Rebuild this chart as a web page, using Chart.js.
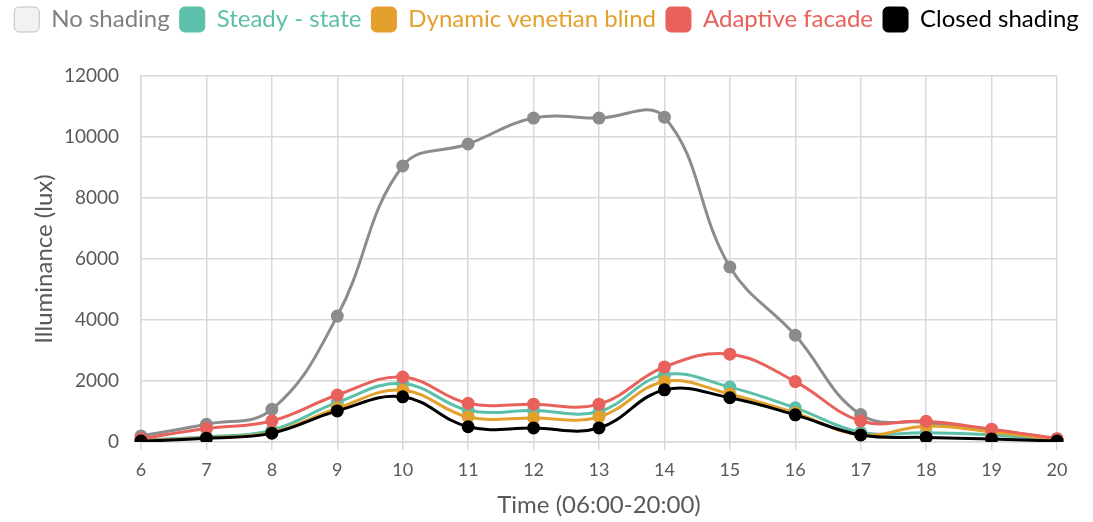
<!DOCTYPE html>
<html>
<head>
<meta charset="utf-8">
<script src="https://cdn.jsdelivr.net/npm/chart.js@4"></script>
<style>
  html, body { margin: 0; padding: 0; background: #ffffff; }
  #wrap { width: 1093px; height: 522px; position: relative; }
</style>
</head>
<body>
<div id="wrap"><canvas id="c" width="1093" height="522"></canvas></div>
<script>
// Hours of the day
const hours = ['6','7','8','9','10','11','12','13','14','15','16','17','18','19','20'];

// Illuminance (lux) per shading strategy
const noShading   = [200, 580, 1070, 4130, 9050, 9770, 10620, 10620, 10650, 5740, 3500, 900, 640, 400, 100];
const steadyState = [60, 170, 390, 1300, 1920, 1040, 1030, 1000, 2200, 1800, 1120, 320, 300, 230, 60];
const dynamicBlind = [40, 140, 310, 1110, 1700, 820, 790, 820, 1980, 1570, 950, 230, 520, 330, 80];
const adaptive    = [110, 440, 690, 1540, 2130, 1270, 1240, 1240, 2460, 2880, 1980, 690, 680, 420, 110];
const closed      = [30, 120, 290, 1020, 1480, 500, 460, 460, 1710, 1450, 890, 230, 150, 100, 30];

const yTicks = [0, 2000, 4000, 6000, 8000, 10000, 12000];

const FONT = 'Lato, "Open Sans", sans-serif';

function series(label, data, color, order, boxFill, boxBorder) {
  return {
    label, data,
    borderColor: color,
    backgroundColor: color,
    pointBackgroundColor: color,
    pointBorderColor: color,
    pointRadius: 5,
    pointHoverRadius: 5,
    borderWidth: 3,
    tension: 0.4,
    fill: false,
    order,
    yAxisID: 'y',
    legendFill: boxFill || color,
    legendBorder: boxBorder || color
  };
}

const datasets = [
  series('No shading', noShading, '#8c8c8c', 4, '#f2f2f2', '#bfbfbf'),
  series('Steady - state', steadyState, '#5bbfa9', 3),
  series('Dynamic venetian blind', dynamicBlind, '#e3a02c', 2),
  series('Adaptive facade', adaptive, '#e8615a', 1),
  series('Closed shading', closed, '#000000', 0)
];

const legendText = ['#7f7f7f', '#5bbfa9', '#e3a02c', '#e8615a', '#000000'];

// Reserve a fixed band for the legend above the plot area
const legendBand = {
  id: 'legendBand',
  beforeLayout(chart) {
    const lg = chart.legend;
    if (lg && !lg._fixedBand) {
      const fit = lg.fit;
      lg.fit = function () { fit.call(this); this.height = 79; };
      lg._fixedBand = true;
    }
  }
};

new Chart(document.getElementById('c'), {
  type: 'line',
  data: { labels: hours, datasets },
  plugins: [legendBand],
  options: {
    responsive: false,
    animation: false,
    layout: { padding: { left: 0, right: 0, top: -3, bottom: 0 } },
    plugins: {
      tooltip: { enabled: false },
      legend: {
        position: 'top',
        align: 'center',
        labels: {
          font: { family: FONT, size: 24 },
          boxWidth: 25,
          boxHeight: 25,
          padding: 10,
          useBorderRadius: true,
          borderRadius: 5,
          generateLabels(chart) {
            return chart.data.datasets.map((ds, i) => ({
              text: ds.label,
              fillStyle: ds.legendFill,
              strokeStyle: ds.legendBorder,
              lineWidth: 1,
              fontColor: legendText[i],
              hidden: false,
              datasetIndex: i,
              borderRadius: 5
            }));
          }
        }
      }
    },
    scales: {
      x: {
        offset: false,
        grid: { color: '#d9d9d9', lineWidth: 1.5, tickLength: 8, drawTicks: true },
        border: { color: '#d9d9d9', width: 1.5 },
        ticks: { color: '#595959', font: { family: FONT, size: 18 }, padding: 9, maxRotation: 0 },
        title: { display: true, text: 'Time (06:00-20:00)', color: '#595959', font: { family: FONT, size: 24 }, padding: { top: 0, bottom: 2 } },
        afterFit(scale) { scale.height = 80; }
      },
      y: {
        position: 'left',
        min: 0,
        max: 12000,
        afterBuildTicks(scale) { scale.ticks = yTicks.map(v => ({ value: v })); },
        grid: { color: '#d9d9d9', lineWidth: 1.5, drawTicks: false },
        border: { color: '#d9d9d9', width: 1.5 },
        ticks: { color: '#595959', font: { family: FONT, size: 19 }, padding: 22, callback: v => String(v) },
        title: { display: true, text: 'Illuminance (lux)', color: '#595959', font: { family: FONT, size: 24 }, padding: { top: 30, bottom: 0 } },
        afterFit(scale) { scale.width = 141; }
      },
      // empty margin on the right of the plot area
      yRight: {
        position: 'right',
        min: 0,
        max: 12000,
        grid: { display: false, drawOnChartArea: false },
        border: { display: false },
        ticks: { display: false },
        afterFit(scale) { scale.width = 36; }
      }
    }
  }
});
</script>
</body>
</html>
